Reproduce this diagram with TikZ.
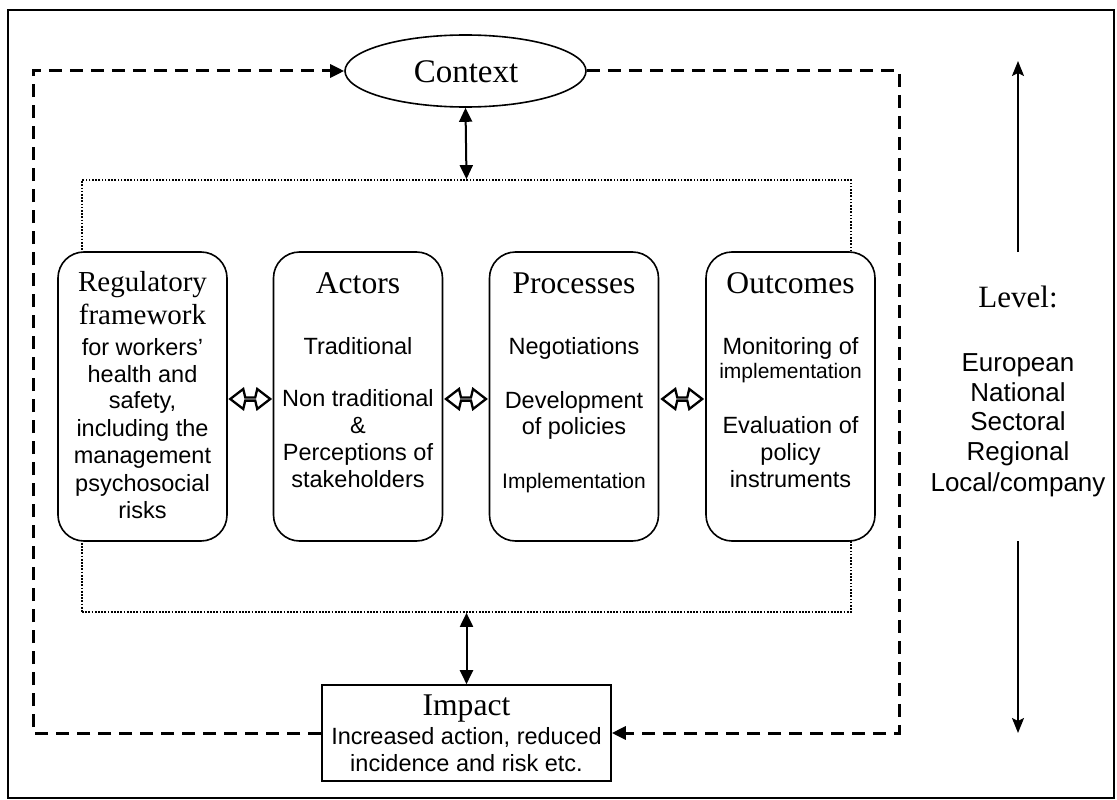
\documentclass[tikz,border=0pt]{standalone}
\usepackage{fontspec}
\setmainfont{Liberation Serif}
\newfontfamily\sansf{Liberation Sans}
\usetikzlibrary{arrows.meta,calc,shapes.geometric}
\begin{document}
\begin{tikzpicture}[x=1pt,y=-1pt,
  frame/.style={draw, line width=2pt},
  dashline/.style={line width=3pt, dash pattern=on 13pt off 8pt},
  dotline/.style={line width=1.7pt, dash pattern=on 1.7pt off 1.5pt},
  block/.style={draw, line width=1.6pt, rounded corners=26pt, fill=white,
    minimum width=169pt, minimum height=289pt, inner sep=0pt},
  solidtip/.style={line width=2pt, {Triangle[length=14pt,width=13pt]}-{Triangle[length=14pt,width=13pt]}},
  levtip/.style={line width=2pt, -{Stealth[length=15pt,width=12pt,inset=3pt]}},
  headT/.style={font=\fontsize{31.6}{36}\selectfont, anchor=base, inner sep=0pt},
  headR/.style={font=\fontsize{29}{33}\selectfont, anchor=base, inner sep=0pt},
  bodyM/.style={font=\sansf\fontsize{23.5}{27}\selectfont, anchor=base, inner sep=0pt},
  bodyS/.style={font=\sansf\fontsize{21}{24}\selectfont, anchor=base, inner sep=0pt},
  bodyL/.style={font=\sansf\fontsize{26}{30}\selectfont, anchor=base, inner sep=0pt},
  hollowarrow/.pic={\draw[line width=2.3pt, line join=miter, fill=white]
     (-20,0) -- (-7,-10) -- (-5,-1.6) -- (5,-1.6) -- (7,-10) -- (20,0)
     -- (7,10) -- (5,1.6) -- (-5,1.6) -- (-7,10) -- cycle;}
]
\useasboundingbox (0,0) rectangle (1117,800);
\fill[white] (0,0) rectangle (1117,800);
% outer frame
\draw[frame] (8,10) rectangle (1114,798);

% dotted inner frame
\node[draw, dotline, minimum width=769pt, minimum height=432pt, inner sep=0pt] (inner) at (466.5,396) {};

% context and impact
\node[draw, ellipse, line width=1.6pt, fill=white, minimum width=241pt, minimum height=72pt, inner sep=0pt] (context) at (465.5,71) {};
\node[font=\fontsize{33}{38}\selectfont, anchor=base, inner sep=0pt] (contextT) at (466,83) {Context};
\node[draw, line width=1.6pt, fill=white, minimum width=289pt, minimum height=96pt, inner sep=0pt] (impact) at (466.5,733) {};
\node[headT] (impT1) at (466.5,715) {Impact};
\node[bodyM] (impT2) at (466.5,744) {Increased action, reduced};
\node[bodyM] (impT3) at (466.5,771) {incidence and risk etc.};

% feedback dashed loop
\coordinate (cTL) at (33,71);
\coordinate (cBL) at (33,733);
\coordinate (cTR) at (899,71);
\coordinate (cBR) at (899,733);
\draw[dashline, -{Triangle[length=14pt,width=13pt]}] (impact.west) -- (cBL) -- (cTL) -- (context.west);
\draw[dashline, -{Triangle[length=14pt,width=13pt]}] (context.east) -- (cTR) -- (cBR) -- (impact.east);

% blocks
\node[block] (b1) at (142.5,396.5) {};
\node[block] (b2) at (358,396.5) {};
\node[block] (b3) at (574,396.5) {};
\node[block] (b4) at (790.5,396.5) {};

% vertical links
\draw[solidtip] (context.south) -- (inner.north);
\draw[solidtip] (inner.south) -- (impact.north);

% hollow double arrows between blocks
\pic at ($($(b1.east)!0.5!(b2.west)$)+(0,2.5)$) {hollowarrow};
\pic at ($($(b2.east)!0.5!(b3.west)$)+(0,2.5)$) {hollowarrow};
\pic at ($($(b3.east)!0.5!(b4.west)$)+(0,2.5)$) {hollowarrow};

% block 1 text
\node[headR] (b1h1) at (142.5,291) {Regulatory};
\node[headR] (b1h2) at (142.5,324) {framework};
\foreach \yy/\tt [count=\i] in {355/{for workers’},382/{health and},408/{safety,},436/{including the},463/{management},491/{psychosocial},518/{risks}}
  \node[bodyM] (b1t\i) at (142.5,\yy) {\tt};

% block 2 text
\node[headT] (b2h) at (358,293) {Actors};
\foreach \yy/\tt [count=\i] in {354/{Traditional},406/{Non traditional},433/{\&},460/{Perceptions of},487/{stakeholders}}
  \node[bodyM] (b2t\i) at (358,\yy) {\tt};

% block 3 text
\node[headT] (b3h) at (574,293) {Processes};
\node[bodyM] (b3t1) at (574,354) {Negotiations};
\node[bodyM] (b3t2) at (574,408) {Development};
\node[bodyM] (b3t3) at (574,434) {of policies};
\node[bodyS] (b3t4) at (574,488) {Implementation};

% block 4 text
\node[headT] (b4h) at (790.5,293) {Outcomes};
\node[bodyM] (b4t1) at (790.5,354) {Monitoring of};
\node[bodyS] (b4t2) at (790.5,378) {implementation};
\node[bodyM] (b4t3) at (790.5,433) {Evaluation of};
\node[bodyM] (b4t4) at (790.5,460) {policy};
\node[bodyM] (b4t5) at (790.5,487) {instruments};

% level column
\node[font=\fontsize{31}{36}\selectfont, anchor=base, inner sep=0pt] (lev) at (1018,307) {Level:};
\foreach \yy/\tt [count=\i] in {371/{European},401/{National},430/{Sectoral},460/{Regional},491/{Local/company}}
  \node[bodyL] (lv\i) at (1018,\yy) {\tt};
\coordinate (lvA) at (1018,252);
\coordinate (lvTop) at (1018,61);
\coordinate (lvB) at (1018,541);
\coordinate (lvBot) at (1018,733);
\draw[levtip] (lvA) -- (lvTop);
\draw[levtip] (lvB) -- (lvBot);
\end{tikzpicture}
\end{document}
